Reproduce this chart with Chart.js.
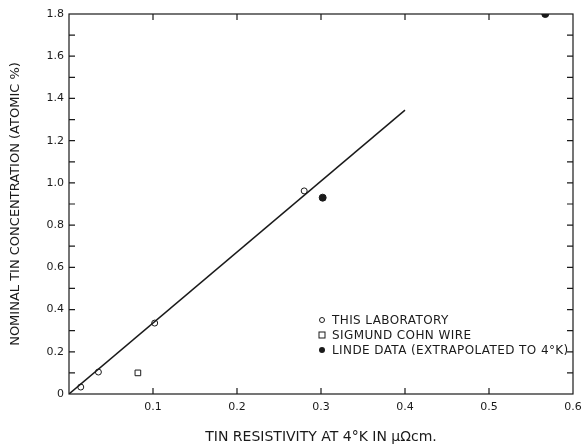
<!DOCTYPE html>
<html>
<head>
<meta charset="utf-8">
<script src="https://cdn.jsdelivr.net/npm/chart.js@4.4.1/dist/chart.umd.min.js"></script>
<style>
  html,body{margin:0;padding:0;background:#fff;}
  #wrap{width:583px;height:446px;position:relative;}
</style>
</head>
<body>
<div id="wrap"><canvas id="chartTin"></canvas></div>
<script>
// resistivity (µΩcm at 4°K) vs nominal tin concentration (atomic %)
const labRes   = [0.014, 0.035, 0.102, 0.280];
const labConc  = [0.033, 0.104, 0.336, 0.962];
const cohnRes  = [0.082];
const cohnConc = [0.100];
const lindeRes  = [0.302, 0.567];
const lindeConc = [0.930, 1.800];
const fitRes  = [0, 0.400];
const fitConc = [0, 1.345];
const xTickVals = [0.1, 0.2, 0.3, 0.4, 0.5, 0.6];
const yTickLabels = ['0','0.2','0.4','0.6','0.8','1.0','1.2','1.4','1.6','1.8'];
const legendNames = ['THIS LABORATORY','SIGMUND COHN WIRE','LINDE DATA (EXTRAPOLATED TO 4°K)'];

const FONT = "'DejaVu Sans',sans-serif";
const INK = '#1a1a1a';
const pts = (xs,ys)=>xs.map((v,i)=>({x:v,y:ys[i]}));

// inward ticks on all four sides, plus the frame
const frameTicks = {
  id:'frameTicks',
  afterDatasetsDraw(chart){
    const {ctx, chartArea:a, scales:{x,y}} = chart;
    ctx.save();
    ctx.strokeStyle = INK; ctx.lineWidth = 1.2;
    ctx.strokeRect(a.left, a.top, a.right-a.left, a.bottom-a.top);
    ctx.beginPath();
    x.ticks.forEach(t=>{
      if(t.value<=0||t.value>=0.6) return;
      const px = x.getPixelForValue(t.value);
      ctx.moveTo(px,a.bottom); ctx.lineTo(px,a.bottom-6);
      ctx.moveTo(px,a.top); ctx.lineTo(px,a.top+6);
    });
    y.ticks.forEach(t=>{
      if(t.value<=0||t.value>=1.8) return;
      const py = y.getPixelForValue(t.value);
      ctx.moveTo(a.left,py); ctx.lineTo(a.left+6,py);
      ctx.moveTo(a.right,py); ctx.lineTo(a.right-6,py);
    });
    ctx.stroke();
    ctx.restore();
  }
};

// key in the lower right corner
const keyBox = {
  id:'keyBox',
  afterDraw(chart){
    const {ctx, chartArea:a} = chart;
    const mx = a.right-251, tx = a.right-241;
    const rows = [a.bottom-74, a.bottom-59, a.bottom-44];
    ctx.save();
    ctx.strokeStyle = INK; ctx.fillStyle = INK; ctx.lineWidth = 1;
    // open circle
    ctx.beginPath(); ctx.arc(mx, rows[0], 2.5, 0, Math.PI*2); ctx.stroke();
    // open square
    ctx.strokeRect(mx-3, rows[1]-3, 6, 6);
    // filled circle
    ctx.beginPath(); ctx.arc(mx, rows[2], 3, 0, Math.PI*2); ctx.fill();
    ctx.font = '12px '+FONT;
    ctx.letterSpacing = '0.4px';
    ctx.textBaseline = 'middle';
    legendNames.forEach((n,i)=>ctx.fillText(n, tx, rows[i]+1));
    ctx.restore();
  }
};

new Chart(document.getElementById('chartTin'), {
  type:'scatter',
  data:{datasets:[
    {label:'fit', data:pts(fitRes,fitConc), showLine:true, borderColor:INK, borderWidth:1.5, pointRadius:0},
    {label:legendNames[0], data:pts(labRes,labConc), pointStyle:'circle', pointRadius:3,
      pointBorderWidth:1, pointBorderColor:INK, pointBackgroundColor:'#fff'},
    {label:legendNames[1], data:pts(cohnRes,cohnConc), pointStyle:'rect', pointRadius:4,
      pointBorderWidth:1, pointBorderColor:INK, pointBackgroundColor:'#fff'},
    {label:legendNames[2], data:pts(lindeRes,lindeConc), pointStyle:'circle', pointRadius:3.5,
      pointBorderWidth:1, pointBorderColor:INK, pointBackgroundColor:INK}
  ]},
  options:{
    responsive:true, maintainAspectRatio:false, animation:false,
    layout:{padding:{top:14,right:0,left:0,bottom:0}},
    plugins:{legend:{display:false}, tooltip:{enabled:false}},
    scales:{
      x:{min:0, max:0.6,
        afterBuildTicks(s){ s.ticks = [0].concat(xTickVals).map(v=>({value:v})); },
        afterFit(s){ s.height = 52; s.paddingRight = 10; },
        grid:{display:false, drawTicks:false},
        border:{display:false},
        ticks:{padding:7, color:INK, font:{family:FONT,size:11},
          callback:(v)=> v===0 ? '' : String(v)},
        title:{display:true, text:'TIN RESISTIVITY AT 4°K IN μΩcm.', color:INK,
          font:{family:FONT,size:14}, padding:{top:10,bottom:0}}
      },
      y:{min:0, max:1.8,
        afterBuildTicks(s){ s.ticks = Array.from({length:19},(_,i)=>({value:+(i/10).toFixed(1)})); },
        afterFit(s){ s.width = 69; },
        grid:{display:false, drawTicks:false},
        border:{display:false},
        ticks:{padding:5, color:INK, font:{family:FONT,size:11}, autoSkip:false,
          callback:(v,i)=> i%2===0 ? yTickLabels[i/2] : ''},
        title:{display:true, text:'NOMINAL TIN CONCENTRATION (ATOMIC %)', color:INK,
          font:{family:FONT,size:13}, padding:{top:8,bottom:14}}
      }
    }
  },
  plugins:[frameTicks, keyBox]
});
</script>
</body>
</html>
